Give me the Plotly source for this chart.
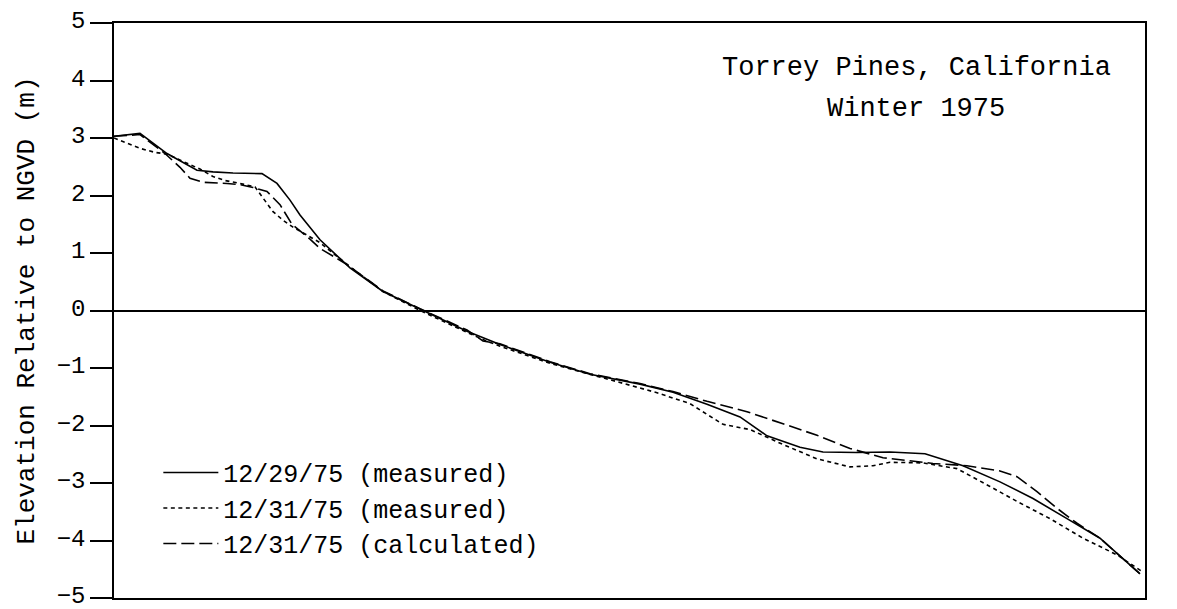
import plotly.graph_objects as go

# Cross-shore position (arbitrary units, no x labels in the original) and elevation (m, NGVD)
x_1229_meas = [0, 26, 53, 83, 99, 119, 148, 163, 176, 186,
               206, 221, 236, 269, 306, 353, 386, 436, 476, 526,
               559, 593, 626, 653, 686, 709, 743, 776, 811, 849,
               886, 919, 953, 986, 1026]
z_1229_meas = [3.03, 3.08, 2.73, 2.44, 2.41, 2.39, 2.38, 2.21, 1.92, 1.66,
               1.23, 0.98, 0.74, 0.33, 0.02, -0.36, -0.59, -0.90, -1.11, -1.28,
               -1.42, -1.63, -1.85, -2.18, -2.38, -2.46, -2.47, -2.46, -2.49, -2.70,
               -2.98, -3.27, -3.62, -3.96, -4.58]

x_1231_meas = [0, 26, 41, 53, 73, 86, 99, 111, 126, 141,
               148, 159, 169, 179, 206, 236, 269, 306, 353, 371,
               386, 436, 493, 543, 576, 609, 636, 669, 703, 736,
               759, 776, 809, 843, 876, 903, 936, 969, 1003, 1029]
z_1231_meas = [3.00, 2.82, 2.75, 2.72, 2.56, 2.46, 2.33, 2.26, 2.21, 2.15,
               1.98, 1.72, 1.57, 1.45, 1.18, 0.76, 0.33, 0.00, -0.38, -0.52,
               -0.62, -0.92, -1.19, -1.43, -1.62, -1.98, -2.07, -2.33, -2.58, -2.72,
               -2.70, -2.64, -2.65, -2.75, -3.06, -3.32, -3.62, -3.96, -4.25, -4.55]

x_1231_calc = [0, 26, 51, 66, 76, 89, 113, 126, 139, 153,
               166, 178, 196, 206, 233, 269, 306, 353, 369, 386,
               436, 476, 526, 559, 593, 633, 669, 703, 736, 769,
               819, 853, 886, 903, 923, 943, 963, 986, 1026]
z_1231_calc = [3.03, 3.06, 2.73, 2.49, 2.30, 2.23, 2.21, 2.19, 2.14, 2.07,
               1.84, 1.50, 1.24, 1.08, 0.80, 0.34, 0.03, -0.34, -0.53, -0.58,
               -0.89, -1.10, -1.27, -1.41, -1.58, -1.76, -1.97, -2.17, -2.40, -2.56,
               -2.66, -2.70, -2.79, -2.89, -3.15, -3.44, -3.70, -3.96, -4.58]

y_ticks = [-5, -4, -3, -2, -1, 0, 1, 2, 3, 4, 5]

FONT = "Courier New, Liberation Mono, monospace"
INK = "black"

fig = go.Figure()
fig.add_trace(go.Scatter(x=x_1229_meas, y=z_1229_meas, mode="lines",
                         name="12/29/75 (measured)",
                         line=dict(color=INK, width=1.6, dash="solid")))
fig.add_trace(go.Scatter(x=x_1231_meas, y=z_1231_meas, mode="lines",
                         name="12/31/75 (measured)",
                         line=dict(color=INK, width=1.6, dash="4px,3.5px")))
fig.add_trace(go.Scatter(x=x_1231_calc, y=z_1231_calc, mode="lines",
                         name="12/31/75 (calculated)",
                         line=dict(color=INK, width=1.6, dash="13px,5px")))

fig.add_annotation(text="Torrey Pines, California", xref="paper", yref="paper",
                   x=0.778, y=0.922, xanchor="center", yanchor="middle", showarrow=False,
                   font=dict(family=FONT, size=27, color=INK))
fig.add_annotation(text="Winter 1975", xref="paper", yref="paper",
                   x=0.778, y=0.851, xanchor="center", yanchor="middle", showarrow=False,
                   font=dict(family=FONT, size=27, color=INK))

fig.update_layout(
    width=1177, height=609,
    margin=dict(l=114, r=32, t=23, b=11),
    plot_bgcolor="white", paper_bgcolor="white",
    font=dict(family=FONT, size=26, color=INK),
    showlegend=True,
    legend=dict(x=0.043, y=0.156, xanchor="left", yanchor="middle",
                bgcolor="rgba(0,0,0,0)", font=dict(family=FONT, size=25, color=INK),
                itemwidth=55),
)
fig.update_xaxes(range=[0, 1031], showticklabels=False, ticks="",
                 showgrid=False, zeroline=False,
                 showline=True, linecolor=INK, linewidth=1.5, mirror=True)
fig.update_yaxes(range=[-5, 5], tickvals=y_ticks, ticks="outside", ticklen=22,
                 tickwidth=1.5, tickcolor=INK, showgrid=False,
                 tickfont=dict(family=FONT, size=24, color=INK),
                 ticklabeloverflow="allow", ticklabelshift=-3,
                 zeroline=True, zerolinecolor=INK, zerolinewidth=1.5,
                 showline=True, linecolor=INK, linewidth=1.5, mirror=True,
                 title=dict(text="Elevation Relative to NGVD (m)",
                            font=dict(family=FONT, size=26, color=INK)),
                 automargin=False)

# drop the default 8px page margin so the figure fills the window exactly
fig.write_html("out.html", config={"displayModeBar": False},
               post_script="document.body.style.margin='0';")
